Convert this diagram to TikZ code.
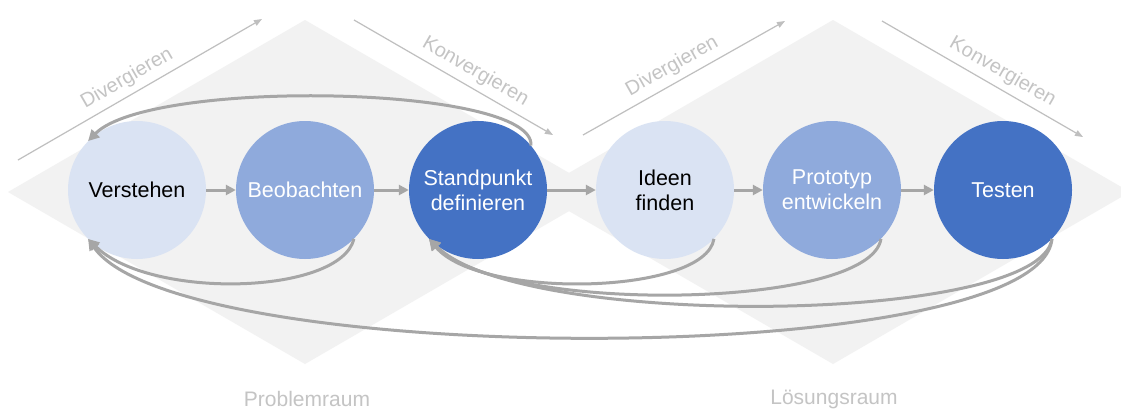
\documentclass[tikz,border=0pt]{standalone}
\usepackage{fontspec}
\setmainfont{Liberation Sans}
\usetikzlibrary{arrows.meta}

\definecolor{spacegrey}{HTML}{F2F2F2}
\definecolor{flowgrey}{HTML}{A6A6A6}
\definecolor{guidegrey}{HTML}{BFBFBF}
\definecolor{labelgrey}{HTML}{C4C4C4}
\definecolor{bluelight}{HTML}{DAE3F3}
\definecolor{bluemid}{HTML}{8FAADC}
\definecolor{bluedark}{HTML}{4472C4}

\tikzset{
  phase/.style={circle, minimum size=138pt, inner sep=0pt, align=center,
    font=\fontsize{21.5}{25}\selectfont},
  phaselight/.style={phase, fill=bluelight, text=black},
  phasemid/.style={phase, fill=bluemid, text=white},
  phasedark/.style={phase, fill=bluedark, text=white},
  flow/.style={draw=flowgrey, line width=3pt, -{Triangle[length=10pt,width=10pt]}},
  loopback/.style={draw=flowgrey, line width=3pt, -{Triangle[length=11pt,width=11pt]}},
  guide/.style={draw=guidegrey, line width=1.2pt, -{Triangle[length=8pt,width=6pt]}},
  guidelabel/.style={text=labelgrey, font=\fontsize{20}{23}\selectfont, sloped, above, inner sep=6pt},
  spacelabel/.style={text=labelgrey, font=\fontsize{21}{24}\selectfont}
}

\begin{document}
\begin{tikzpicture}[x=1pt, y=-1pt]
  \useasboundingbox (0,0) rectangle (1121,410);
  \clip (0,0) rectangle (1121,410);
  \fill[white] (0,0) rectangle (1121,410);

  % problem space and solution space
  \fill[spacegrey] (305,20) -- (602,192) -- (305,364) -- (8,192) -- cycle;
  \fill[spacegrey] (833,20) -- (1130,192) -- (833,364) -- (536,192) -- cycle;

  % diverging / converging guides
  \coordinate (d1s) at (18,160);   \coordinate (d1e) at (262,19);
  \coordinate (k1s) at (354,20);   \coordinate (k1e) at (553,135);
  \coordinate (d2s) at (583,135);  \coordinate (d2e) at (785,21);
  \coordinate (k2s) at (882,21);   \coordinate (k2e) at (1083,137);
  \draw[guide] (d1s) -- node[guidelabel, pos=0.48] {Divergieren} (d1e);
  \draw[guide] (k1s) -- node[guidelabel, pos=0.57] {Konvergieren} (k1e);
  \draw[guide] (d2s) -- node[guidelabel, pos=0.48] {Divergieren} (d2e);
  \draw[guide] (k2s) -- node[guidelabel, pos=0.56] {Konvergieren} (k2e);

  % phases
  \node[phaselight] (ve) at (137,190) {Verstehen};
  \node[phasemid]   (be) at (305,190) {Beobachten};
  \node[phasedark]  (st) at (478,190) {Standpunkt\\definieren};
  \node[phaselight] (id) at (665,190) {Ideen\\finden};
  \node[phasemid]   (pr) at (832,190) {Prototyp\\entwickeln};
  \node[phasedark]  (te) at (1003,190) {Testen};

  % forward flow
  \draw[flow] (ve) -- (be);
  \draw[flow] (be) -- (st);
  \draw[flow] (st) -- (id);
  \draw[flow] (id) -- (pr);
  \draw[flow] (pr) -- (te);

  % iterations back to earlier phases
  \draw[loopback] (st.40) .. controls (535,85) and (150,78) .. (ve.135);
  \draw[loopback] (be.-45) .. controls (340,295) and (150,300) .. (ve.-135);
  \draw[loopback] (te.-45) .. controls (1040,370) and (180,370) .. (ve.-135);
  \draw[loopback] (id.-45) .. controls (705,295) and (480,300) .. (st.-135);
  \draw[loopback] (pr.-45) .. controls (870,310) and (500,315) .. (st.-135);
  \draw[loopback] (te.-45) .. controls (1040,325) and (520,330) .. (st.-135);

  % space names
  \node[spacelabel] (pspace) at (307,399) {Problemraum};
  \node[spacelabel] (sspace) at (834,399) {Lösungsraum};
\end{tikzpicture}
\end{document}
